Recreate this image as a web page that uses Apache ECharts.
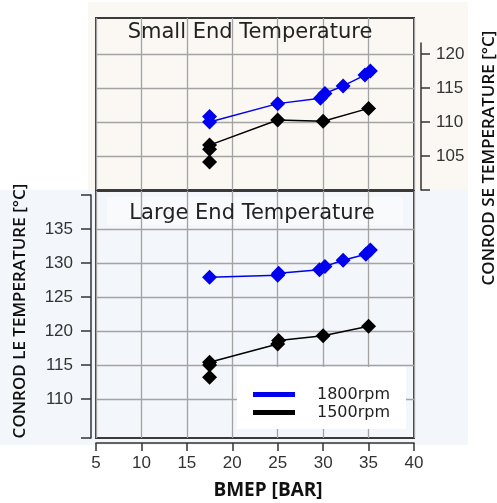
<!DOCTYPE html>
<html><head><meta charset="utf-8">
<script src="https://cdn.jsdelivr.net/npm/echarts@6/dist/echarts.min.js"></script>
<style>html,body{margin:0;padding:0;background:#fff}#c{width:497px;height:503px}</style>
</head><body><div id="c"></div><script>
// ---- data ----
const xTicks = [5, 10, 15, 20, 25, 30, 35, 40];
const seTickValues = [100, 105, 110, 115, 120];
const seLabelValues = [105, 110, 115, 120];
const leTickValues = [104.26, 110, 115, 120, 125, 130, 135, 140];
const leLabelValues = [110, 115, 120, 125, 130, 135];
const seGridValues = [105, 110, 115, 120];
const leGridValues = [110, 115, 120, 125, 130, 135];
const legendNames = ['1800rpm', '1500rpm'];
// Small end temperature [BMEP, °C]
const se1800 = [[17.5, 110.8], [17.5, 110.0], [25, 112.7], [29.7, 113.5], [30.2, 114.2], [32.2, 115.3], [34.6, 116.9], [35.2, 117.5]];
const se1500 = [[17.5, 104.1], [17.5, 106.0], [17.5, 106.6], [25, 110.3], [30, 110.1], [35, 112.0]];
// Large end temperature [BMEP, °C]
const le1800 = [[17.5, 127.9], [25, 128.2], [25.1, 128.5], [29.6, 129.0], [30.2, 129.5], [32.2, 130.4], [34.7, 131.3], [35.2, 131.9]];
const le1500 = [[17.5, 113.2], [17.5, 115.0], [17.5, 115.4], [25, 118.1], [25.1, 118.6], [30, 119.3], [35, 120.7]];

const BLUE = '#0000ee', BLACK = '#000000';
const gridLine = {show: true, lineStyle: {color: '#a3a3a3', width: 1.3}};
const axisCol = '#333';
const hiddenX = (gi) => ({gridIndex: gi, type: 'value', min: 5, max: 40, show: false});

const chart = echarts.init(document.getElementById('c'), null, {renderer: 'canvas'});
const mkSeries = (name, data, color, xi, yi) => ({
  name, type: 'line', data, xAxisIndex: xi, yAxisIndex: yi,
  symbol: 'diamond', symbolSize: 15,
  itemStyle: {color}, lineStyle: {color, width: 1.5},
  emphasis: {disabled: true}, z: 5
});

chart.setOption({
  animation: false,
  backgroundColor: '#ffffff',
  textStyle: {fontFamily: 'DejaVu Sans'},
  grid: [
    {left: 96, top: 18, width: 318, height: 172, show: true, borderColor: '#3a3a3a', borderWidth: 2, backgroundColor: 'transparent'},
    {left: 96, top: 191, width: 318, height: 247, show: true, borderColor: '#3a3a3a', borderWidth: 2, backgroundColor: 'transparent'},
    {left: 96, top: 43, width: 318, height: 147, show: false},
    {left: 96, top: 195, width: 318, height: 243, show: false}
  ],
  xAxis: [
    {gridIndex: 0, type: 'value', min: 5, max: 40, interval: 5,
     axisLine: {show: false}, axisTick: {show: false}, axisLabel: {show: false}, splitLine: gridLine},
    {gridIndex: 1, type: 'value', min: 5, max: 40, interval: 5, offset: 5,
     axisLine: {show: true, lineStyle: {color: axisCol, width: 1.5}},
     axisTick: {show: true, length: 8, lineStyle: {color: axisCol, width: 1.5}},
     axisLabel: {show: true, fontSize: 17, color: '#333', margin: 12, fontFamily: 'Liberation Sans',
       customValues: xTicks},
     splitLine: gridLine},
    hiddenX(2), hiddenX(3)
  ],
  yAxis: [
    {gridIndex: 0, type: 'value', min: 100, max: 125.29,
     axisLine: {show: false}, axisTick: {show: false, customValues: seGridValues}, axisLabel: {show: false},
     splitLine: gridLine},
    {gridIndex: 1, type: 'value', min: 104.26, max: 140.59,
     axisLine: {show: false}, axisTick: {show: false, customValues: leGridValues}, axisLabel: {show: false},
     splitLine: gridLine},
    {gridIndex: 2, type: 'value', position: 'right', offset: 7, min: 100, max: 121.6,
     axisLine: {show: true, lineStyle: {color: axisCol, width: 1.5}},
     axisTick: {show: true, length: 9, lineStyle: {color: axisCol, width: 1.5}, customValues: seTickValues},
     axisLabel: {show: true, fontSize: 17, color: '#333', margin: 15, fontFamily: 'Liberation Sans', customValues: seLabelValues},
     splitLine: {show: false}},
    {gridIndex: 3, type: 'value', position: 'left', offset: 5, min: 104.26, max: 140,
     axisLine: {show: true, lineStyle: {color: axisCol, width: 1.5}},
     axisTick: {show: true, length: 10, lineStyle: {color: axisCol, width: 1.5}, customValues: leTickValues},
     axisLabel: {show: true, fontSize: 17, color: '#333', margin: 18, fontFamily: 'Liberation Sans', customValues: leLabelValues},
     splitLine: {show: false}}
  ],
  legend: {
    orient: 'vertical', left: 237, top: 367, data: legendNames,
    backgroundColor: '#ffffff', padding: [19, 16, 8, 16],
    itemWidth: 42, itemHeight: 5, itemGap: 1, icon: 'rect',
    textStyle: {fontFamily: 'DejaVu Sans', fontSize: 16, color: '#222', padding: [0, 0, 0, 17], lineHeight: 17},
    selectedMode: false
  },
  graphic: {elements: [
    {type: 'rect', z: -100, shape: {x: 88, y: 2, width: 380, height: 188}, style: {fill: '#fbf8f4'}},
    {type: 'rect', z: -100, shape: {x: 0, y: 190, width: 468, height: 255}, style: {fill: '#f3f6fa'}},
    {type: 'rect', z: -99, shape: {x: 107, y: 197, width: 296, height: 28}, style: {fill: '#f8fafc'}},
    {type: 'text', x: 250, y: 33, z: 10, style: {text: 'Small End Temperature', fontFamily: 'DejaVu Sans', fontSize: 21, fill: '#222', textAlign: 'center', textVerticalAlign: 'middle'}},
    {type: 'text', x: 252, y: 214, z: 10, style: {text: 'Large End Temperature', fontFamily: 'DejaVu Sans', fontSize: 21, fill: '#222', textAlign: 'center', textVerticalAlign: 'middle'}},
    {type: 'text', x: 20, y: 311, rotation: Math.PI / 2, z: 10, style: {text: 'CONROD LE TEMPERATURE [°C]', fontFamily: 'Open Sans', fontWeight: 600, fontSize: 17, fill: '#111', textAlign: 'center', textVerticalAlign: 'middle'}},
    {type: 'text', x: 489, y: 158, rotation: Math.PI / 2, z: 10, style: {text: 'CONROD SE TEMPERATURE [°C]', fontFamily: 'Open Sans', fontWeight: 600, fontSize: 17, fill: '#111', textAlign: 'center', textVerticalAlign: 'middle'}},
    {type: 'text', x: 268, y: 491, z: 10, style: {text: 'BMEP [BAR]', fontFamily: 'Open Sans', fontWeight: 700, fontSize: 19, fill: '#111', textAlign: 'center', textVerticalAlign: 'middle'}}
  ]},
  series: [
    mkSeries('1800rpm', se1800, BLUE, 0, 0),
    mkSeries('1500rpm', se1500, BLACK, 0, 0),
    mkSeries('1800rpm', le1800, BLUE, 1, 1),
    mkSeries('1500rpm', le1500, BLACK, 1, 1)
  ]
});
</script></body></html>
